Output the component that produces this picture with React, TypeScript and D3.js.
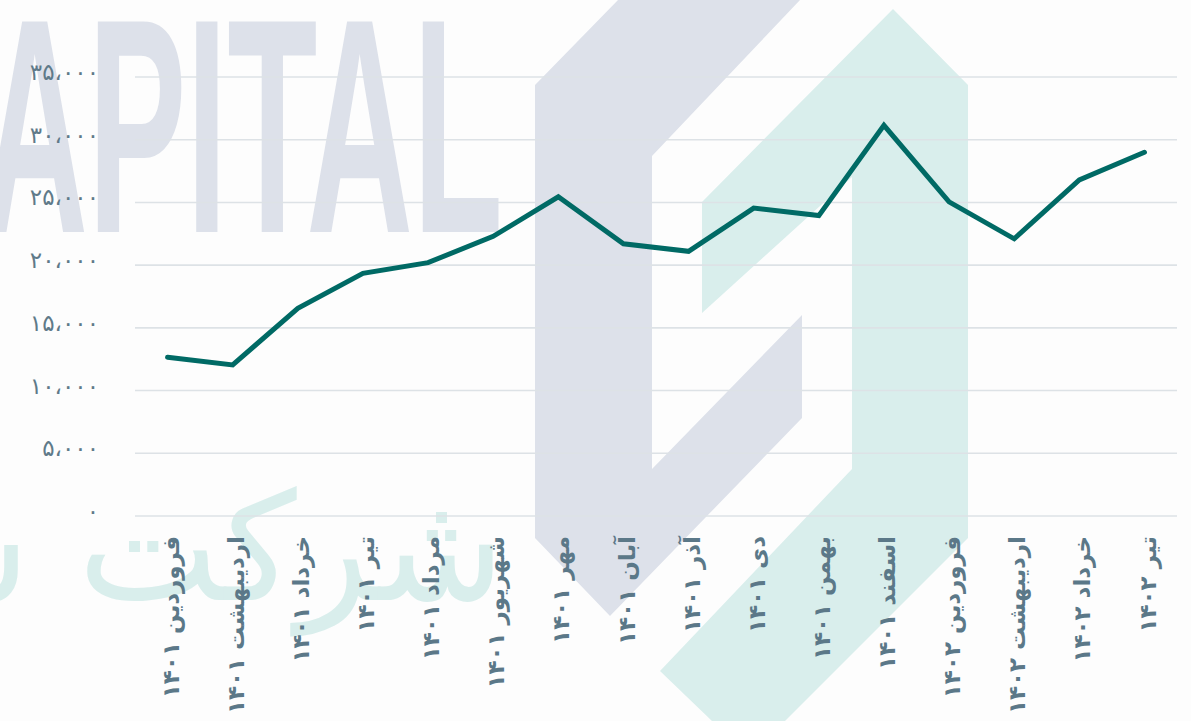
import React from "react";
import * as d3 from "d3";

const categories: string[] = [
  "فروردین ۱۴۰۱",
  "اردیبهشت ۱۴۰۱",
  "خرداد ۱۴۰۱",
  "تیر ۱۴۰۱",
  "مرداد ۱۴۰۱",
  "شهریور ۱۴۰۱",
  "مهر ۱۴۰۱",
  "آبان ۱۴۰۱",
  "آذر ۱۴۰۱",
  "دی ۱۴۰۱",
  "بهمن ۱۴۰۱",
  "اسفند ۱۴۰۱",
  "فروردین ۱۴۰۲",
  "اردیبهشت ۱۴۰۲",
  "خرداد ۱۴۰۲",
  "تیر ۱۴۰۲",
];

const values: number[] = [
  12650, 12050, 16550, 19350, 20200, 22300, 25450, 21700, 21100, 24550,
  23950, 31150, 25050, 22100, 26800, 29000,
];

const yTicks: number[] = [0, 5000, 10000, 15000, 20000, 25000, 30000, 35000];

const W = 1191;
const H = 721;
const left = 135;
const right = 1177;
const top = 77;
const bottom = 516;

const faDigits = "۰۱۲۳۴۵۶۷۸۹";
const toFa = (s: string) =>
  s.replace(/[0-9]/g, (d) => faDigits[+d]).replace(/,/g, "،");

export default function App() {
  const x = d3.scaleBand<string>().domain(categories).range([left, right]).padding(0);
  const y = d3.scaleLinear().domain([0, 35000]).range([bottom, top]);
  const cx = (c: string) => (x(c) as number) + x.bandwidth() / 2;
  const line = d3
    .line<number>()
    .x((_, i) => cx(categories[i]))
    .y((d) => y(d));
  const fmt = d3.format(",");

  const grayLogo = "535,85 618,0 800,0 652,156 652,469 802,315 802,418 610,616 535,538";
  const tealLogo =
    "893,9 968,85 968,538 785,721 712,721 660,671 852,469 852,177 702,313 702,202";

  return (
    <svg
      width={W}
      height={H}
      style={{ position: "absolute", left: 0, top: 0, background: "#fdfdfd" }}
    >
      <rect x={0} y={0} width={W} height={H} fill="#fdfdfd" />
      {/* watermark */}
      <g>
        <text
          x={-125}
          y={232}
          textLength={628}
          lengthAdjust="spacingAndGlyphs"
          fontFamily="Liberation Sans, Arial, sans-serif"
          fontWeight="bold"
          fontSize={306}
          fill="#dde1ea"
        >
          CAPITAL
        </text>
        <polygon points={grayLogo} fill="#dde1ea" />
        <polygon points={tealLogo} fill="#d9eeec" />
        <text
          x={505}
          y={600}
          textAnchor="end"
          fontFamily="DejaVu Sans, sans-serif"
          fontSize={150}
          fill="#d9eeec"
        >
          شرکت سبدگردان
        </text>
      </g>
      {/* gridlines */}
      <g>
        {yTicks.map((t) => (
          <line
            key={t}
            x1={left}
            x2={right}
            y1={y(t)}
            y2={y(t)}
            stroke="#dde2e6"
            strokeWidth={1.6}
          />
        ))}
      </g>
      {/* y labels */}
      <g>
        {yTicks.map((t) => (
          <text
            key={t}
            x={99}
            y={y(t) + 3}
            textAnchor="end"
            fontFamily="DejaVu Sans, sans-serif"
            fontSize={23}
            fill="#5f7a89"
          >
            {toFa(fmt(t))}
          </text>
        ))}
      </g>
      {/* x labels */}
      <g>
        {categories.map((c) => (
          <text
            key={c}
            transform={`translate(${cx(c) + 3},${536}) rotate(-90)`}
            textAnchor="end"
            dy="0.35em"
            fontFamily="DejaVu Sans, sans-serif"
            fontWeight="bold"
            fontSize={23}
            fill="#5b7888"
          >
            {c}
          </text>
        ))}
      </g>
      {/* line */}
      <path
        d={line(values) || ""}
        fill="none"
        stroke="#006a65"
        strokeWidth={5}
        strokeLinejoin="miter"
        strokeLinecap="round"
      />
    </svg>
  );
}
